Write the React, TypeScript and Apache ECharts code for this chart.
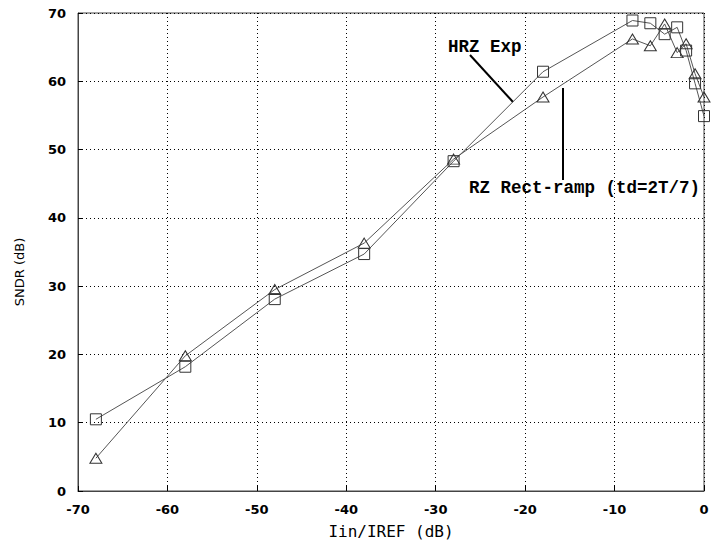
import React, { useEffect, useRef } from "react";
import * as echarts from "echarts";

const hrzX = [-68, -58, -48, -38, -28, -18, -8, -6, -4.4, -3, -2, -1, 0];
const hrzY = [10.5, 18.2, 28.1, 34.7, 48.3, 61.4, 68.9, 68.5, 66.9, 67.9, 64.5, 59.7, 54.9];
const rzX = [-68, -58, -48, -38, -28, -18, -8, -6, -4.4, -3, -2, -1, 0];
const rzY = [4.8, 19.8, 29.5, 36.3, 48.6, 57.7, 66.2, 65.2, 68.4, 64.2, 65.5, 61.1, 57.7];
const xTicks = [-70, -60, -50, -40, -30, -20, -10, 0];
const yTicks = [0, 10, 20, 30, 40, 50, 60, 70];
const hrzName = "HRZ Exp";
const rzName = "RZ Rect-ramp (td=2T/7)";

export default function App() {
  const ref = useRef<HTMLDivElement>(null);
  useEffect(() => {
    if (!ref.current) return;
    const chart = echarts.init(ref.current, null, { renderer: "svg" });
    const tickFont = { fontFamily: "DejaVu Sans", fontSize: 13, fontWeight: "bold" as const, color: "#000" };
    const grid = { color: "#000", width: 1, type: [1, 3] as number[] };
    chart.setOption({
      animation: false,
      backgroundColor: "#fff",
      grid: { left: 78, right: 8, top: 13, bottom: 53, show: true, borderColor: "#444", borderWidth: 1 },
      xAxis: {
        type: "value",
        min: xTicks[0],
        max: xTicks[xTicks.length - 1],
        interval: 10,
        axisLine: { show: true, onZero: false, lineStyle: { color: "#444", width: 1 } },
        axisTick: { show: true, inside: true, length: 5, lineStyle: { color: "#000" } },
        axisLabel: { ...tickFont, margin: 12 },
        splitLine: { show: true, lineStyle: grid },
        name: "Iin/IREF (dB)",
        nameLocation: "middle",
        nameGap: 32,
        nameTextStyle: { fontFamily: "DejaVu Sans Mono", fontSize: 16, color: "#000" },
      },
      yAxis: {
        type: "value",
        min: yTicks[0],
        max: yTicks[yTicks.length - 1],
        interval: 10,
        axisLine: { show: true, onZero: false, lineStyle: { color: "#444", width: 1 } },
        axisTick: { show: true, inside: true, length: 5, lineStyle: { color: "#000" } },
        axisLabel: { ...tickFont, margin: 12 },
        splitLine: { show: true, lineStyle: grid },
      },
      series: [
        {
          name: hrzName,
          type: "line",
          data: hrzX.map((x, i) => [x, hrzY[i]]),
          symbol: "rect",
          symbolSize: 11,
          lineStyle: { color: "#555", width: 1 },
          itemStyle: { color: "rgba(0,0,0,0)", borderColor: "#333", borderWidth: 1 },
          z: 3,
        },
        {
          name: rzName,
          type: "line",
          data: rzX.map((x, i) => [x, rzY[i]]),
          symbol: "triangle",
          symbolSize: [12, 10],
          lineStyle: { color: "#555", width: 1 },
          itemStyle: { color: "rgba(0,0,0,0)", borderColor: "#333", borderWidth: 1 },
          z: 3,
        },
      ],
      graphic: [
        {
          type: "text",
          x: 19,
          y: 272,
          rotation: Math.PI / 2,
          style: {
            text: "SNDR (dB)",
            fontFamily: "DejaVu Sans",
            fontSize: 13,
            fill: "#000",
            align: "center",
            verticalAlign: "middle",
          },
        },
        {
          type: "text",
          x: 448,
          y: 47,
          style: {
            text: hrzName,
            fontFamily: "Liberation Mono",
            fontSize: 17.5,
            fontWeight: "bold",
            fill: "#000",
            verticalAlign: "middle",
          },
        },
        {
          type: "line",
          shape: { x1: 470, y1: 55, x2: 513, y2: 102 },
          style: { stroke: "#000", lineWidth: 2 },
        },
        {
          type: "text",
          x: 469,
          y: 188,
          style: {
            text: rzName,
            fontFamily: "Liberation Mono",
            fontSize: 17.5,
            fontWeight: "bold",
            fill: "#000",
            verticalAlign: "middle",
          },
        },
        {
          type: "line",
          shape: { x1: 563, y1: 88, x2: 563, y2: 180 },
          style: { stroke: "#000", lineWidth: 2 },
        },
      ],
    });
    return () => chart.dispose();
  }, []);
  return <div ref={ref} style={{ width: 712, height: 544, position: "absolute", left: 0, top: 0 }} />;
}
